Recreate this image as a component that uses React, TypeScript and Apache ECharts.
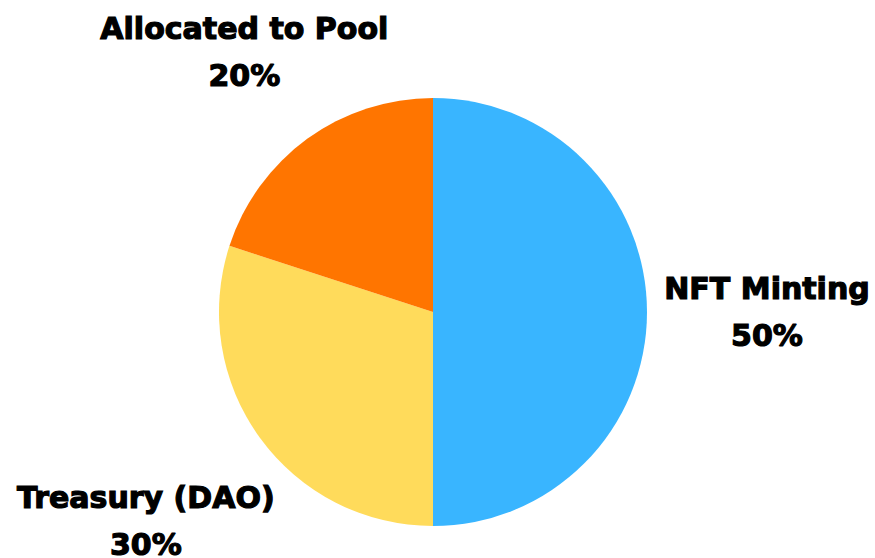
import React, { useEffect, useRef } from "react";
import * as echarts from "echarts";

const categories = ["NFT Minting", "Treasury (DAO)", "Allocated to Pool"];
const shares = [50, 30, 20];
const colors = ["#39B5FF", "#FFDB5B", "#FF7500"];
// extra radial distance of each label centre beyond the pie edge (layout only)
const labelGap = [120, 141, 107];

export default function App() {
  const ref = useRef<HTMLDivElement>(null);
  useEffect(() => {
    if (!ref.current) return;
    const chart = echarts.init(ref.current, null, { renderer: "svg" });
    const R = 214;
    chart.setOption({
      animation: false,
      backgroundColor: "#ffffff",
      series: [
        {
          type: "pie",
          center: [433, 312],
          radius: [0, R],
          startAngle: 90,
          clockwise: true,
          avoidLabelOverlap: false,
          data: categories.map((name, i) => ({
            name,
            value: shares[i],
            itemStyle: { color: colors[i] },
          })),
          label: {
            show: true,
            position: "outside",
            formatter: (p: any) => `${p.name}\n${p.value}%`,
            fontFamily: "DejaVu Sans",
            fontWeight: "bold",
            fontSize: 30,
            lineHeight: 47,
            color: "#000000",
            textBorderColor: "#000000",
            textBorderWidth: 1.2,
            align: "center",
            overflow: "none",
            edgeDistance: 0,
          },
          labelLine: { show: true, length: 10, length2: 0, lineStyle: { opacity: 0 } },
          labelLayout: (params: any) => {
            const pts = params.labelLinePoints;
            if (!pts) return {};
            const [p0, p1] = pts;
            const dx = p1[0] - p0[0];
            const dy = p1[1] - p0[1];
            const len = Math.sqrt(dx * dx + dy * dy) || 1;
            const g = labelGap[params.dataIndex];
            return {
              x: p0[0] + (dx / len) * g,
              y: p0[1] + (dy / len) * g,
              align: "center",
              verticalAlign: "middle",
            };
          },
        },
      ],
    });
    return () => chart.dispose();
  }, []);
  return (
    <div
      ref={ref}
      style={{ position: "fixed", left: 0, top: 0, width: 875, height: 558 }}
    />
  );
}
